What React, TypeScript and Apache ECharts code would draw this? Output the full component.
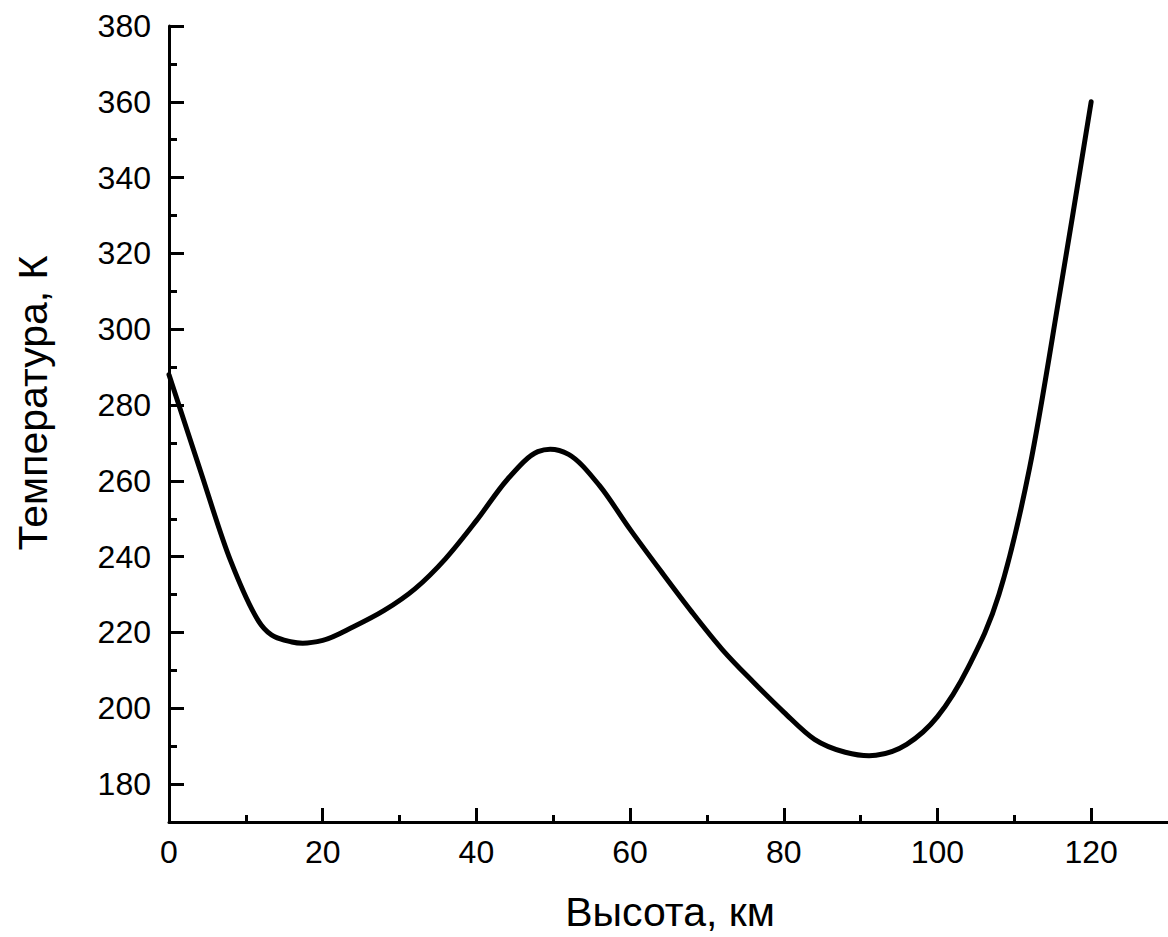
import React, { useEffect, useRef } from "react";
import * as echarts from "echarts";

const altitudeKm = [0, 4, 8, 12, 16, 20, 24, 28, 32, 36, 40, 44, 48, 52, 56, 60, 64, 68, 72, 76, 80, 84, 88, 92, 96, 100, 104, 108, 112, 116, 120];
const temperatureK = [288, 263.2, 239, 222, 217.5, 217.9, 221.5, 225.8, 231.5, 239.5, 249.5, 260.3, 267.7, 267, 258.8, 247.2, 236.2, 225.5, 215.5, 207, 199, 191.8, 188.4, 187.6, 190.5, 197.8, 210.8, 230, 263.5, 310.5, 360];

const xMajorTicks = [0, 20, 40, 60, 80, 100, 120];
const xMinorTicks = [10, 30, 50, 70, 90, 110];
const yMajorTicks = [180, 200, 220, 240, 260, 280, 300, 320, 340, 360, 380];
const yMinorTicks = [170, 190, 210, 230, 250, 270, 290, 310, 330, 350, 370];

const xTitle = "Высота, км";
const yTitle = "Температура, К";

const FONT = "'Liberation Sans', Arial, sans-serif";

function catmullRomPath(pts: number[][]): string {
  if (!pts.length) return "";
  let d = `M${pts[0][0]},${pts[0][1]}`;
  for (let i = 0; i < pts.length - 1; i++) {
    const p0 = pts[Math.max(0, i - 1)];
    const p1 = pts[i];
    const p2 = pts[i + 1];
    const p3 = pts[Math.min(pts.length - 1, i + 2)];
    const c1x = p1[0] + (p2[0] - p0[0]) / 6;
    const c1y = p1[1] + (p2[1] - p0[1]) / 6;
    const c2x = p2[0] - (p3[0] - p1[0]) / 6;
    const c2y = p2[1] - (p3[1] - p1[1]) / 6;
    d += ` C${c1x},${c1y} ${c2x},${c2y} ${p2[0]},${p2[1]}`;
  }
  return d;
}

export default function App() {
  const ref = useRef<HTMLDivElement>(null);
  useEffect(() => {
    if (!ref.current) return;
    const chart = echarts.init(ref.current, undefined, { renderer: "svg" });
    const axisLine = { show: true, onZero: false, lineStyle: { color: "#000", width: 3 } };
    const seriesData = altitudeKm.map((x, i) => [x, temperatureK[i]]);
    chart.setOption({
      animation: false,
      backgroundColor: "#fff",
      grid: { left: 169, top: 26, width: 1001, height: 796, containLabel: false },
      graphic: [
        {
          type: "text",
          x: 670,
          y: 912,
          style: { text: xTitle, fill: "#000", font: `41px ${FONT}`, textAlign: "center", textVerticalAlign: "middle" },
        },
        {
          type: "text",
          x: 33,
          y: 403,
          rotation: Math.PI / 2,
          style: { text: yTitle, fill: "#000", font: `41px ${FONT}`, textAlign: "center", textVerticalAlign: "middle" },
        },
      ],
      xAxis: [
        {
          type: "value",
          min: 0,
          max: 130,
          position: "bottom",
          axisLine,
          splitLine: { show: false },
          axisTick: { inside: true, length: 14, customValues: xMajorTicks, lineStyle: { color: "#000", width: 3 } },
          axisLabel: { customValues: xMajorTicks, margin: 14, color: "#000", fontSize: 32, fontFamily: FONT },
        },
        {
          type: "value",
          min: 0,
          max: 130,
          position: "bottom",
          axisLine: { show: false },
          splitLine: { show: false },
          axisTick: { inside: true, length: 7, customValues: xMinorTicks, lineStyle: { color: "#000", width: 3 } },
          axisLabel: { show: false },
        },
      ],
      yAxis: [
        {
          type: "value",
          min: 170,
          max: 380,
          position: "left",
          axisLine,
          splitLine: { show: false },
          axisTick: { inside: true, length: 15, customValues: yMajorTicks, lineStyle: { color: "#000", width: 3 } },
          axisLabel: { customValues: yMajorTicks, margin: 18, color: "#000", fontSize: 32, fontFamily: FONT },
        },
        {
          type: "value",
          min: 170,
          max: 380,
          position: "left",
          axisLine: { show: false },
          splitLine: { show: false },
          axisTick: { inside: true, length: 8, customValues: yMinorTicks, lineStyle: { color: "#000", width: 3 } },
          axisLabel: { show: false },
        },
      ],
      series: [
        {
          type: "custom",
          xAxisIndex: 0,
          yAxisIndex: 0,
          data: seriesData,
          encode: { x: 0, y: 1 },
          renderItem: (params: any, api: any) => {
            if (params.dataIndex !== 0) return null;
            const pts = seriesData.map((d) => api.coord(d));
            return {
              type: "path",
              shape: { pathData: catmullRomPath(pts) },
              style: { stroke: "#000", lineWidth: 5, fill: "none", lineCap: "round", lineJoin: "round" },
            };
          },
        },
      ],
    });
    return () => chart.dispose();
  }, []);
  return <div ref={ref} style={{ position: "fixed", left: 0, top: 0, width: 1168, height: 937 }} />;
}
